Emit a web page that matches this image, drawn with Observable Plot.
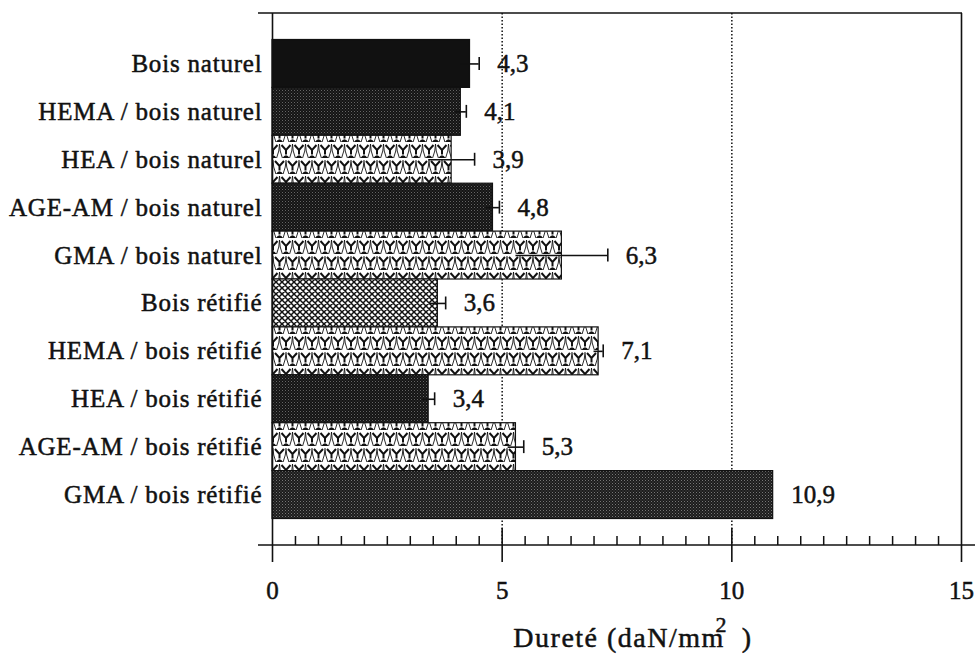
<!DOCTYPE html>
<html><head><meta charset="utf-8">
<script src="https://cdn.jsdelivr.net/npm/d3@7"></script>
<script src="https://cdn.jsdelivr.net/npm/@observablehq/plot@0.6"></script>
<style>body{margin:0;background:#fff} svg{display:block}</style>
</head><body><div id="chart"></div>
<script>
const categories = ["Bois naturel","HEMA / bois naturel","HEA / bois naturel","AGE-AM / bois naturel","GMA / bois naturel","Bois rétifié","HEMA / bois rétifié","HEA / bois rétifié","AGE-AM / bois rétifié","GMA / bois rétifié"];
const values = [4.3, 4.1, 3.9, 4.8, 6.3, 3.6, 7.1, 3.4, 5.3, 10.9];
const errors = [0.2, 0.12, 0.5, 0.14, 1.0, 0.17, 0.1, 0.13, 0.17, 0];
const valueLabels = ["4,3","4,1","3,9","4,8","6,3","3,6","7,1","3,4","5,3","10,9"];
const patterns = ["solid","dots","trefoil","dots","trefoil","hatch","trefoil","dots","trefoil","dots2"];
const xTicks = [0, 5, 10, 15];
const xTickLabels = ["0","5","10","15"];
const minorStep = 0.5;
const axisTitle = "Dureté (daN/mm\u00a0\u00a0)";
const axisTitleSup = "2";

const fillOf = {solid: "#111", dots: "url(#p-dots)", dots2: "url(#p-dots2)", trefoil: "url(#p-tre)", hatch: "url(#p-hatch)"};
const data = categories.map((c, i) => ({cat: c, v: values[i], e: errors[i], lab: valueLabels[i], fill: fillOf[patterns[i]]}));
const errData = data.filter(d => d.e > 0);
const minor = d3.range(xTicks[0] + minorStep, xTicks[xTicks.length - 1], minorStep).filter(t => !xTicks.includes(t));
const inner = xTicks.slice(1, -1);
const ends = [xTicks[0], xTicks[xTicks.length - 1]];
const font = "'Liberation Serif','Times New Roman',serif";
const ink = "#111";

function buildDefs(defs) {
  const mk = (id, w, h) => defs.append("pattern").attr("id", id).attr("patternUnits", "userSpaceOnUse").attr("width", w).attr("height", h);
  let p = mk("p-dots", 3, 3);
  p.append("rect").attr("width", 3).attr("height", 3).attr("fill", "#141414");
  p.append("rect").attr("width", 1).attr("height", 1).attr("fill", "#666");
  p.append("rect").attr("x", 1.5).attr("y", 1.5).attr("width", 1).attr("height", 1).attr("fill", "#444");
  p = mk("p-dots2", 3, 3);
  p.append("rect").attr("width", 3).attr("height", 3).attr("fill", "#1c1c1c");
  p.append("rect").attr("width", 1).attr("height", 1).attr("fill", "#777");
  p.append("rect").attr("x", 1.5).attr("y", 1.5).attr("width", 1).attr("height", 1).attr("fill", "#555");
  p = mk("p-hatch", 6, 6);
  p.append("rect").attr("width", 6).attr("height", 6).attr("fill", "#fff");
  p.append("path").attr("d", "M0,0L6,6M6,0L0,6M-1,5L1,7M5,-1L7,1M-1,1L1,-1M5,7L7,5").attr("stroke", ink).attr("stroke-width", 1.5);
  p = mk("p-tre", 13, 32);
  p.append("rect").attr("width", 13).attr("height", 32).attr("fill", "#fff");
  const unit = (cx, cy) => {
    p.append("path").attr("d", `M${cx-4.5},${cy-5}L${cx},${cy}L${cx+4.5},${cy-5}M${cx},${cy}L${cx},${cy+4.5}`)
      .attr("fill", "none").attr("stroke", ink).attr("stroke-width", 2);
    p.append("path").attr("d", `M${cx-3.6},${cy+8}Q${cx},${cy+2.5} ${cx+3.6},${cy+8}Z`).attr("fill", ink);
    p.append("path").attr("d", `M${cx-6.5},${cy-6}Q${cx-6.5},${cy+1} ${cx-3.6},${cy+8}M${cx+6.5},${cy-6}Q${cx+6.5},${cy+1} ${cx+3.6},${cy+8}`)
      .attr("fill", "none").attr("stroke", ink).attr("stroke-width", 0.9);
  };
  unit(6.5, 6); unit(0, 22); unit(13, 22);
}

const chrome = (index, scales, values, dims) => {
  const x = scales.x;
  const g = d3.create("svg:g");
  buildDefs(g.append("defs"));
  const top = dims.marginTop, bottom = dims.height - dims.marginBottom;
  const x0 = x(xTicks[0]), x1 = x(xTicks[xTicks.length - 1]);
  g.append("line").attr("x1", x0 - 14).attr("x2", x1 + 1).attr("y1", top).attr("y2", top).attr("stroke", ink).attr("stroke-width", 1.6);
  g.append("line").attr("x1", x0 - 14).attr("x2", x1 + 14).attr("y1", bottom).attr("y2", bottom).attr("stroke", ink).attr("stroke-width", 1.6);
  return g.node();
};

const txt = {fill: ink, stroke: ink, strokeWidth: 0.5};
const plot = Plot.plot({
  width: 978, height: 655,
  marginLeft: 272, marginRight: 17, marginTop: 13, marginBottom: 110,
  style: {fontFamily: font, background: "white", color: ink},
  x: {domain: [xTicks[0], xTicks[xTicks.length - 1]], axis: null},
  y: {domain: categories, axis: null, paddingInner: 0, paddingOuter: 0.553, round: false},
  color: {type: "identity"},
  marks: [
    chrome,
    Plot.ruleX(inner, {stroke: ink, strokeWidth: 1.5, strokeDasharray: "1.5,2"}),
    Plot.barX(data, {x: "v", y: "cat", fill: "fill", stroke: ink, strokeWidth: 1.2, inset: 0}),
    Plot.ruleY(errData, {y: "cat", x1: d => d.v - d.e, x2: d => d.v + d.e, stroke: ink, strokeWidth: 1.6}),
    Plot.tickX(errData, {x: d => d.v + d.e, y: "cat", stroke: ink, strokeWidth: 1.6, insetTop: 17.5, insetBottom: 17.5}),
    Plot.ruleX(ends, {stroke: ink, strokeWidth: 1.6, insetBottom: -17}),
    Plot.ruleX(inner, {stroke: ink, strokeWidth: 1.6, insetTop: 515, insetBottom: -17}),
    Plot.ruleX(minor, {stroke: ink, strokeWidth: 1.5, insetTop: 523}),
    Plot.text(data, {x: d => d.v + d.e, y: "cat", text: "lab", dx: 18, textAnchor: "start", fontSize: 25, ...txt}),
    Plot.text(data, {y: "cat", text: "cat", frameAnchor: "left", dx: -10, textAnchor: "end", fontSize: 25, ...txt}),
    Plot.text(xTicks, {x: d => d, text: (d, i) => xTickLabels[i], frameAnchor: "bottom", dy: 45, lineAnchor: "middle", fontSize: 25, ...txt}),
    Plot.text([axisTitle], {x: () => (xTicks[0] + xTicks[xTicks.length - 1]) / 2, text: d => d, frameAnchor: "bottom", dy: 93, dx: 16, lineAnchor: "middle", fontSize: 28, ...txt}),
    Plot.text([axisTitleSup], {x: () => (xTicks[0] + xTicks[xTicks.length - 1]) / 2, text: d => d, frameAnchor: "bottom", dy: 79, dx: 104, lineAnchor: "middle", fontSize: 22, ...txt})
  ]
});
document.getElementById("chart").appendChild(plot);
d3.select(plot).selectAll("text").each(function() {
  const t = this.textContent;
  if (categories.includes(t)) this.setAttribute("letter-spacing", "0.8");
  if (t === axisTitle) this.setAttribute("letter-spacing", "1.5");
});
</script>
</body></html>
